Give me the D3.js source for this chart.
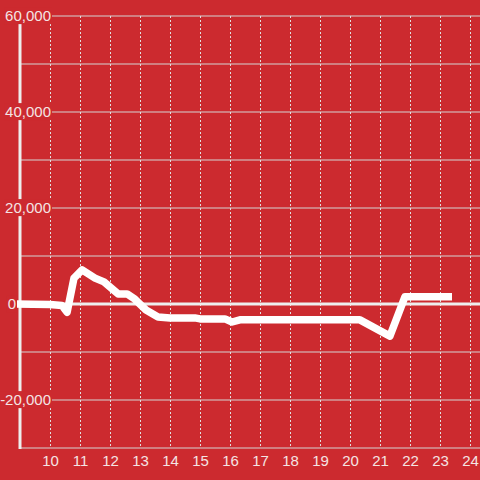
<!DOCTYPE html>
<html>
<head>
<meta charset="utf-8">
<script src="https://cdn.jsdelivr.net/npm/d3@7"></script>
<style>
  html, body { margin: 0; padding: 0; background: #cc2a2f; }
  #chart { width: 480px; height: 480px; }
  text { font-family: "Liberation Sans", Arial, sans-serif; }
</style>
</head>
<body>
<div id="chart"></div>
<script>
/* global d3 */

const BG = "#cc2a2f";
const TEXT_COLOR = "#f4e4e4";

// series
const hours = [8.85, 10, 10.4, 10.57, 10.8, 11.07, 11.5, 11.8, 12.27, 12.57, 12.83, 13.2, 13.6, 14, 14.83, 15, 15.83, 16.07, 16.33, 20.33, 21.33, 21.83, 23.4];
const values = [0, -100, -300, -1700, 5400, 7100, 5400, 4600, 2100, 2100, 1000, -1250, -2700, -2900, -2900, -3100, -3100, -3750, -3300, -3300, -6700, 1500, 1500];

const xTicks = [10, 11, 12, 13, 14, 15, 16, 17, 18, 19, 20, 21, 22, 23, 24];
const yGridTicks = [-30000, -20000, -10000, 0, 10000, 20000, 30000, 40000, 50000, 60000];
const yLabelTicks = [-20000, 0, 20000, 40000, 60000];

const width = 480;
const height = 480;

const x = d3.scaleLinear().domain([9, 24.333]).range([20, 480]);
const y = d3.scaleLinear().domain([-30000, 60000]).range([448, 16]);

const svg = d3.select("#chart")
  .append("svg")
  .attr("width", width)
  .attr("height", height);

svg.append("rect").attr("width", width).attr("height", height).attr("fill", BG);

// horizontal grid
svg.append("g")
  .selectAll("line")
  .data(yGridTicks.filter((d) => d !== 0))
  .join("line")
  .attr("x1", 20)
  .attr("x2", width)
  .attr("y1", (d) => y(d))
  .attr("y2", (d) => y(d))
  .attr("stroke", "#d4d4d4")
  .attr("stroke-width", 1);

// vertical dotted grid
svg.append("g")
  .selectAll("line")
  .data(xTicks)
  .join("line")
  .attr("x1", (d) => Math.round(x(d)) + 0.5)
  .attr("x2", (d) => Math.round(x(d)) + 0.5)
  .attr("y1", y(60000))
  .attr("y2", y(-30000))
  .attr("stroke", "#e0e0e0")
  .attr("stroke-width", 1)
  .attr("stroke-dasharray", "2,2");

// zero line
svg.append("line")
  .attr("x1", 20)
  .attr("x2", width)
  .attr("y1", y(0))
  .attr("y2", y(0))
  .attr("stroke", "#eeeeee")
  .attr("stroke-width", 3);

// y axis line
svg.append("line")
  .attr("x1", 20)
  .attr("x2", 20)
  .attr("y1", y(60000))
  .attr("y2", y(-30000) + 1)
  .attr("stroke", "#eeeeee")
  .attr("stroke-width", 3);

// data line
const line = d3.line()
  .x((d, i) => x(hours[i]))
  .y((d) => y(d));

svg.append("path")
  .datum(values)
  .attr("fill", "none")
  .attr("stroke", "#ffffff")
  .attr("stroke-width", 7.5)
  .attr("stroke-linejoin", "round")
  .attr("d", line);

// y labels with background
const fmt = d3.format(",");
const yLabels = svg.append("g")
  .selectAll("g")
  .data(yLabelTicks)
  .join("g")
  .attr("transform", (d) => `translate(${d === 0 ? 16 : 51},${y(d)})`);

yLabels.append("text")
  .attr("text-anchor", "end")
  .attr("dy", "0.34em")
  .attr("font-size", "15px")
  .attr("fill", TEXT_COLOR)
  .text((d) => fmt(d).replace("−", "-"));

yLabels.each(function () {
  const g = d3.select(this);
  const box = g.select("text").node().getBBox();
  g.insert("rect", "text")
    .attr("x", box.x - 1)
    .attr("y", box.y)
    .attr("width", box.width + 2)
    .attr("height", box.height)
    .attr("fill", BG);
});

// x axis labels
const xAxis = svg.append("g")
  .attr("transform", `translate(0,${y(-30000)})`)
  .call(d3.axisBottom(x).tickValues(xTicks).tickSize(0).tickPadding(0).tickFormat(d3.format("d")));

xAxis.select(".domain").remove();
xAxis.selectAll(".tick text")
  .attr("y", 18)
  .attr("dy", 0)
  .attr("font-size", "15px")
  .attr("font-family", "Liberation Sans, Arial, sans-serif")
  .attr("fill", TEXT_COLOR);
</script>
</body>
</html>
